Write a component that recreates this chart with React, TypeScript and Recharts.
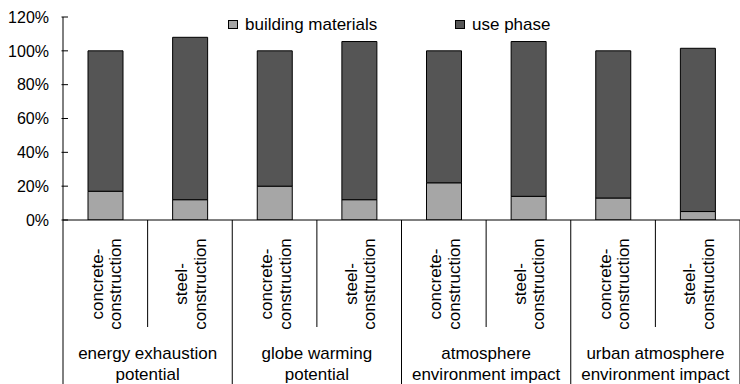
import React from 'react';
import { BarChart, Bar, XAxis, YAxis, Legend } from 'recharts';

const W = 740;
const H = 384;
const MARGIN = { top: 17, right: 0, bottom: 0, left: 0 };
const X_AXIS_H = 164;
const Y_AXIS_W = 63;
const N_CAT = 8;
const BAND = (W - Y_AXIS_W - MARGIN.left - MARGIN.right) / N_CAT;
const FONT = "'Liberation Sans', Arial, sans-serif";

// ---- data ----
const groupLabels = [
  ['energy exhaustion', 'potential'],
  ['globe warming', 'potential'],
  ['atmosphere', 'environment impact'],
  ['urban atmosphere', 'environment impact'],
];
const constructionLabels = [
  ['concrete-', 'construction'],
  ['steel-', 'construction'],
];
const categoryIds = [
  'EE-concrete', 'EE-steel',
  'GW-concrete', 'GW-steel',
  'AE-concrete', 'AE-steel',
  'UA-concrete', 'UA-steel',
];
const buildingMaterials = [0.17, 0.12, 0.2, 0.12, 0.22, 0.14, 0.13, 0.05];
const usePhase = [0.83, 0.96, 0.8, 0.935, 0.78, 0.915, 0.87, 0.965];
const yTicks = [0, 0.2, 0.4, 0.6, 0.8, 1.0, 1.2];
const seriesNames = ['building materials', 'use phase'];
const seriesColors = ['#a6a6a6', '#555555'];
const legendX = [228, 455];

const data = categoryIds.map((id, i) => ({
  id,
  building: buildingMaterials[i],
  use: usePhase[i],
}));

function XTick(props: any) {
  const { x, y, index } = props;
  const axisY = y;
  const isGroupEnd = index % 2 === 1;
  const lines = constructionLabels[index % 2];
  const rotY = axisY + 64;
  const group = groupLabels[Math.floor(index / 2)];
  return (
    <g>
      {index === 0 && (
        <line x1={x - BAND / 2} x2={x - BAND / 2} y1={axisY} y2={H} stroke="#000" strokeWidth={1} />
      )}
      <line
        x1={x + BAND / 2}
        x2={x + BAND / 2}
        y1={axisY}
        y2={isGroupEnd ? H : axisY + 107}
        stroke="#000"
        strokeWidth={1}
      />
      <text
        transform={`translate(${x - 2.5},${rotY}) rotate(-90)`}
        textAnchor="middle"
        fontFamily={FONT}
        fontSize={17}
        fill="#000"
      >
        {lines[0]}
      </text>
      <text
        transform={`translate(${x + 16},${rotY}) rotate(-90)`}
        textAnchor="middle"
        fontFamily={FONT}
        fontSize={17}
        fill="#000"
      >
        {lines[1]}
      </text>
      {index % 2 === 0 && (
        <g>
          <text x={x + BAND / 2} y={axisY + 139} textAnchor="middle" fontFamily={FONT} fontSize={17} fill="#000">
            {group[0]}
          </text>
          <text x={x + BAND / 2} y={axisY + 160} textAnchor="middle" fontFamily={FONT} fontSize={17} fill="#000">
            {group[1]}
          </text>
        </g>
      )}
    </g>
  );
}

function YTick(props: any) {
  const { x, y, payload } = props;
  const axisX = x + 14;
  return (
    <g>
      <line x1={axisX - 1.5} x2={axisX + 5} y1={y} y2={y} stroke="#000" strokeWidth={1} />
      <text x={x} y={y} dy="0.36em" textAnchor="end" fontFamily={FONT} fontSize={16} fill="#000">
        {`${Math.round(payload.value * 100)}%`}
      </text>
    </g>
  );
}

function renderLegend(props: any) {
  const payload = props.payload || [];
  return (
    <svg width={W} height={40} style={{ display: 'block' }}>
      {payload.map((entry: any, i: number) => (
        <g key={i}>
          <rect x={legendX[i] + 0.5} y={20.5} width={9} height={8} fill={entry.color} stroke="#000" strokeWidth={1} />
          <text x={legendX[i] + 17} y={30} fontFamily={FONT} fontSize={17} fill="#000">
            {entry.value}
          </text>
        </g>
      ))}
    </svg>
  );
}

export default function App() {
  return (
    <div style={{ position: 'absolute', left: 0, top: 0, width: W, height: H, background: '#fff' }}>
      <BarChart width={W} height={H} data={data} margin={MARGIN} barSize={35}>
        <XAxis
          dataKey="id"
          interval={0}
          tickLine={false}
          tickSize={0}
          tickMargin={0}
          axisLine={{ stroke: '#000', strokeWidth: 1 }}
          tick={<XTick />}
          height={X_AXIS_H}
        />
        <YAxis
          domain={[0, 1.2]}
          ticks={yTicks}
          interval={0}
          width={Y_AXIS_W}
          tickLine={false}
          tickSize={0}
          tickMargin={14}
          axisLine={{ stroke: '#000', strokeWidth: 1 }}
          tick={<YTick />}
          allowDataOverflow
        />
        <Legend
          verticalAlign="middle"
          align="center"
          layout="horizontal"
          content={renderLegend}
          wrapperStyle={{ position: 'absolute', top: 0, left: 0, width: W, height: 40 }}
        />
        <Bar
          dataKey="building"
          name={seriesNames[0]}
          stackId="a"
          fill={seriesColors[0]}
          stroke="#000"
          strokeWidth={1}
          isAnimationActive={false}
        />
        <Bar
          dataKey="use"
          name={seriesNames[1]}
          stackId="a"
          fill={seriesColors[1]}
          stroke="#000"
          strokeWidth={1}
          isAnimationActive={false}
        />
      </BarChart>
    </div>
  );
}
